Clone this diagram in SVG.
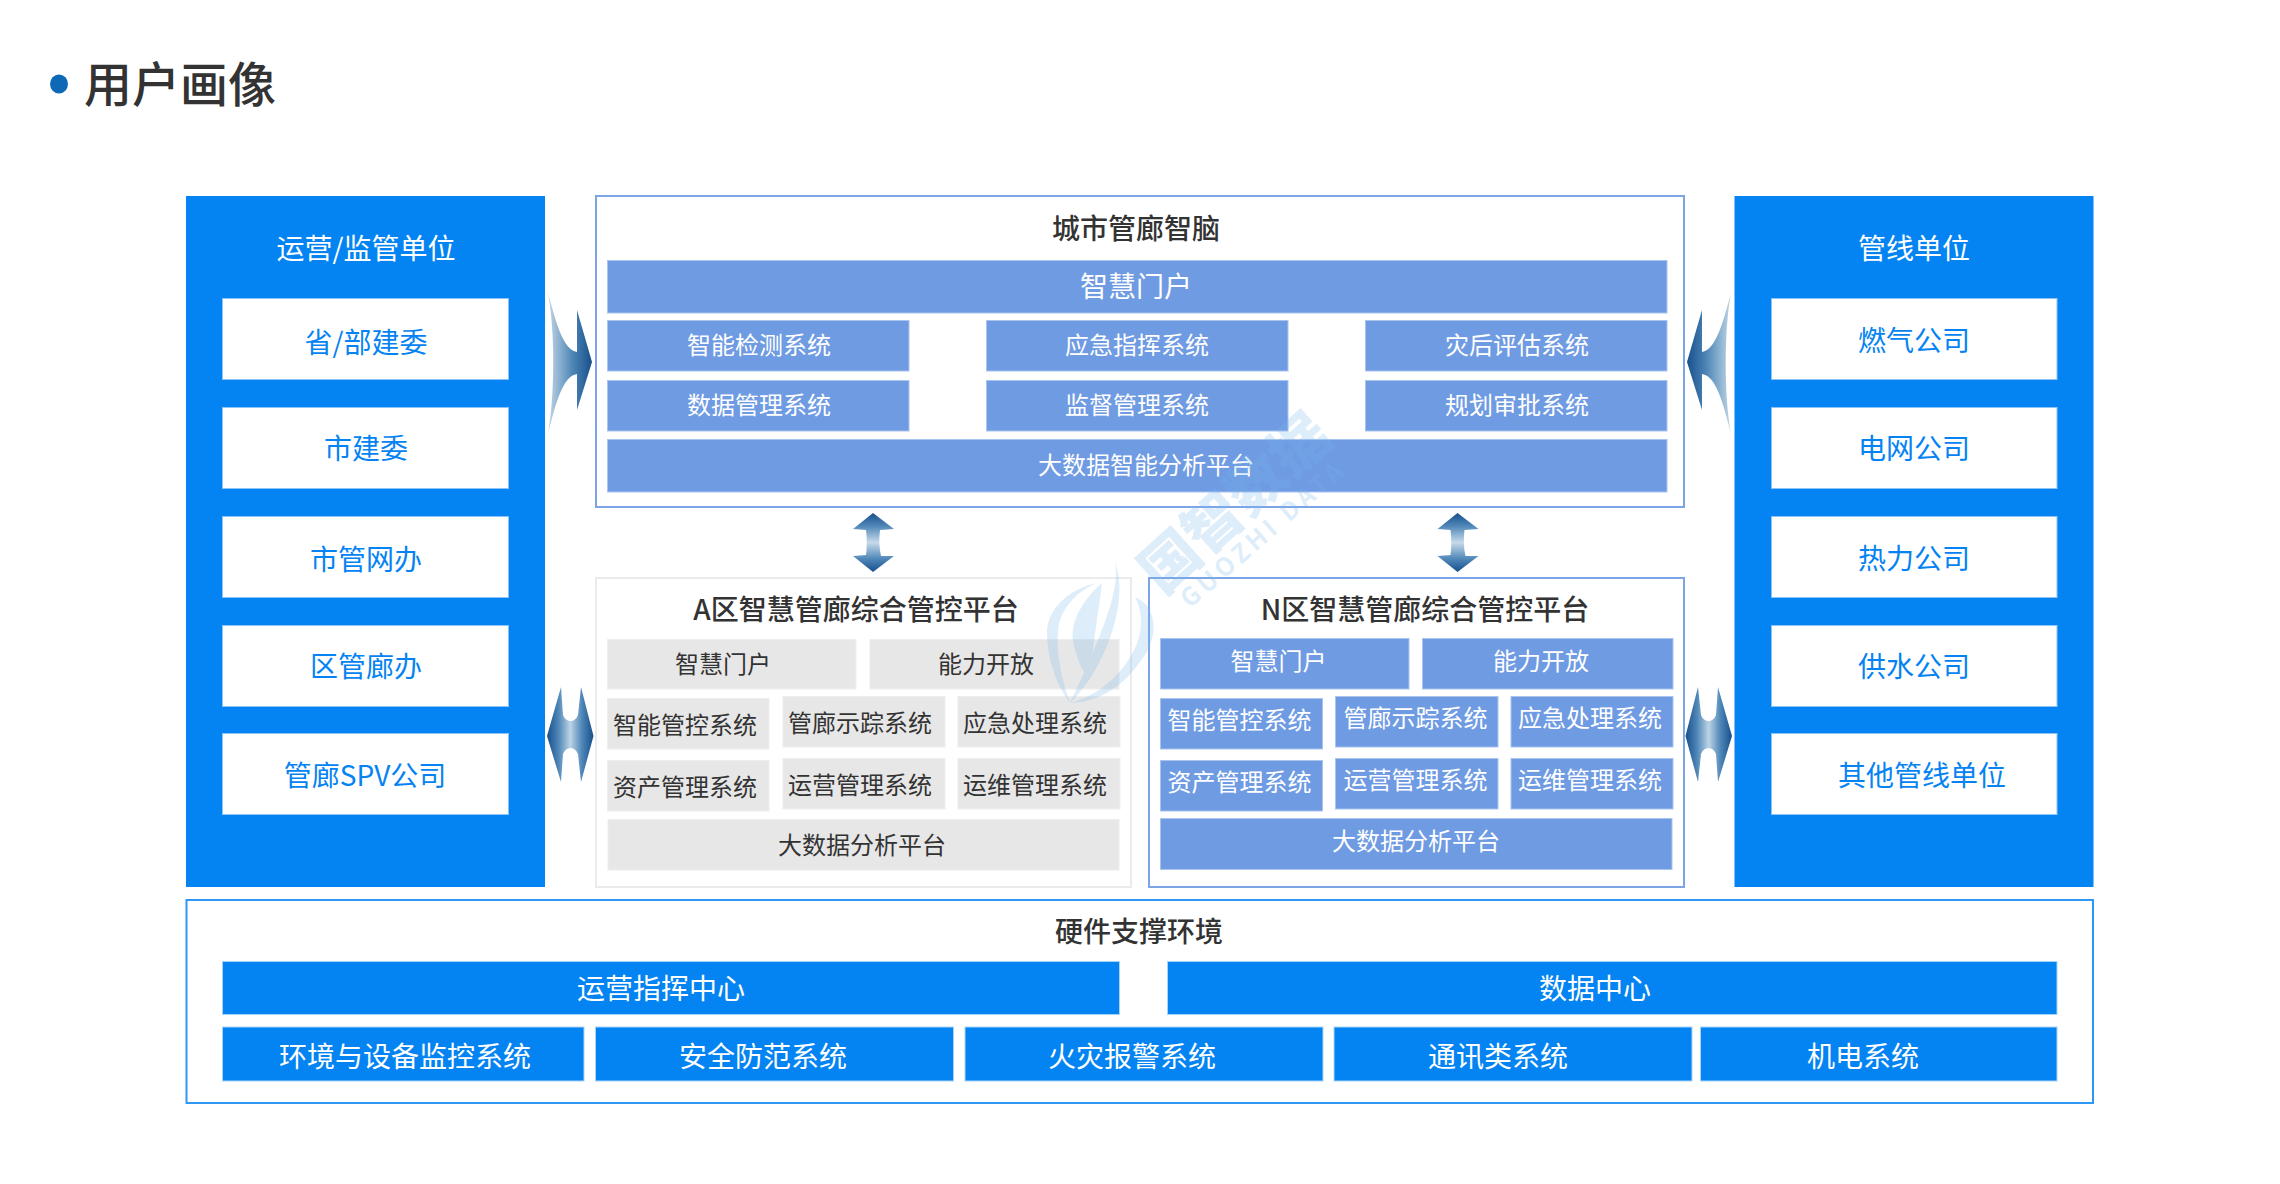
<svg xmlns="http://www.w3.org/2000/svg" width="2280" height="1184" viewBox="0 0 2280 1184">
<style>
text{font-family:"Noto Sans CJK SC","Noto Sans",sans-serif;text-anchor:middle;dominant-baseline:central}
.p{fill:#0484f2}
.w{fill:#fff;stroke:#8cc4f7;stroke-width:1}
.b{fill:#0484f2;stroke:#a9d4fa;stroke-width:1}
.v{fill:#6f9be3;stroke:#a9c4ef;stroke-width:1}
.g{fill:#e7e7e7;stroke:#eeeeee;stroke-width:1}
.fv{fill:#fff;stroke:#7da5e6;stroke-width:2}
.fg{fill:#fff;stroke:#ebebeb;stroke-width:2}
.fb{fill:#fff;stroke:#2e98f4;stroke-width:2}
.t28{font-size:28px;transform:translateY(-1.5px)}.t24{font-size:24px;transform:translateY(-1.5px)}
.tw{fill:#fff}.tb{fill:#0583f2}.td{fill:#333}.m{font-weight:500}
</style>
<defs>
<linearGradient id="gr" x1="0" x2="1" y1="0" y2="0"><stop offset="0" stop-color="#c2d6e6"/><stop offset=".55" stop-color="#4f87b8"/><stop offset="1" stop-color="#174f8c"/></linearGradient>
<linearGradient id="gh" x1="0" x2="1" y1="0" y2="0"><stop offset="0" stop-color="#174f8c"/><stop offset=".25" stop-color="#4f87b8"/><stop offset=".5" stop-color="#bdd3e5"/><stop offset=".75" stop-color="#4f87b8"/><stop offset="1" stop-color="#174f8c"/></linearGradient>
<linearGradient id="gv" x1="0" x2="0" y1="0" y2="1"><stop offset="0" stop-color="#174f8c"/><stop offset=".22" stop-color="#4f87b8"/><stop offset=".5" stop-color="#c6dae9"/><stop offset=".78" stop-color="#4f87b8"/><stop offset="1" stop-color="#174f8c"/></linearGradient>
<path id="ar" d="M548,293 C556,322 563,350 577,352 L577,310 L592,362 L577,410 L577,374 C563,376 556,402 548,434 C555,395 555,330 548,293Z"/>
<path id="ad" d="M561,687 L563,715 C566,723 575,723 578,715 L581,687 L593.500,736 L581,782 L578,754 C575,746 566,746 563,754 L561,782 L547,736Z"/>
<path id="av" d="M873,513 L894,529 L880,530 C879,538 879,548 881,556 L894,556 L873,572 L853,556 L866,555 C867,548 867,538 866,530 L853,529Z"/>
</defs>
<rect width="2280" height="1184" fill="#fff"/>

<g id="title">
<ellipse cx="59" cy="84" rx="9" ry="9.500" fill="#0f68b5"/>
<text x="180" y="81" font-size="48" fill="#333" font-weight="500">用户画像</text>
</g>

<g id="left-panel">
<rect class="p" x="186" y="196" width="359" height="691"/>
<text class="t28 tw" x="366" y="248">运营/监管单位</text>
<g id="l1"><rect class="w" x="222.500" y="298.500" width="286" height="81"/><text class="t28 tb" x="366" y="342">省/部建委</text></g>
<g id="l2"><rect class="w" x="222.500" y="407.500" width="286" height="81"/><text class="t28 tb" x="366" y="448.500">市建委</text></g>
<g id="l3"><rect class="w" x="222.500" y="516.500" width="286" height="81"/><text class="t28 tb" x="366" y="559">市管网办</text></g>
<g id="l4"><rect class="w" x="222.500" y="625.500" width="286" height="81"/><text class="t28 tb" x="366" y="666">区管廊办</text></g>
<g id="l5"><rect class="w" x="222.500" y="733.500" width="286" height="81"/><text class="t28 tb" x="365" y="775">管廊SPV公司</text></g>
</g>

<g id="right-panel">
<rect class="p" x="1734.500" y="196" width="359" height="691"/>
<text class="t28 tw" x="1914" y="248">管线单位</text>
<g id="r1"><rect class="w" x="1771.500" y="298.500" width="285.500" height="81"/><text class="t28 tb" x="1914" y="340">燃气公司</text></g>
<g id="r2"><rect class="w" x="1771.500" y="407.500" width="285.500" height="81"/><text class="t28 tb" x="1914" y="448.500">电网公司</text></g>
<g id="r3"><rect class="w" x="1771.500" y="516.500" width="285.500" height="81"/><text class="t28 tb" x="1914" y="558">热力公司</text></g>
<g id="r4"><rect class="w" x="1771.500" y="625.500" width="285.500" height="81"/><text class="t28 tb" x="1914" y="666">供水公司</text></g>
<g id="r5"><rect class="w" x="1771.500" y="733.500" width="285.500" height="81"/><text class="t28 tb" x="1922" y="775">其他管线单位</text></g>
</g>

<g id="city-brain">
<rect class="fv" x="596" y="196" width="1088" height="311"/>
<text class="t28 td m" x="1136" y="228">城市管廊智脑</text>
<g id="c-portal"><rect class="v" x="607.500" y="260.500" width="1059.500" height="52.500"/><text class="t28 tw" x="1136" y="286">智慧门户</text></g>
<g id="c1"><rect class="v" x="607.500" y="320.500" width="301.500" height="50.500"/><text class="t24 tw" x="759" y="344.500">智能检测系统</text></g>
<g id="c2"><rect class="v" x="986.500" y="320.500" width="301.500" height="50.500"/><text class="t24 tw" x="1137" y="344.500">应急指挥系统</text></g>
<g id="c3"><rect class="v" x="1365.500" y="320.500" width="301.500" height="50.500"/><text class="t24 tw" x="1517" y="344.500">灾后评估系统</text></g>
<g id="c4"><rect class="v" x="607.500" y="380.500" width="301.500" height="50.500"/><text class="t24 tw" x="759" y="405">数据管理系统</text></g>
<g id="c5"><rect class="v" x="986.500" y="380.500" width="301.500" height="50.500"/><text class="t24 tw" x="1137" y="405">监督管理系统</text></g>
<g id="c6"><rect class="v" x="1365.500" y="380.500" width="301.500" height="50.500"/><text class="t24 tw" x="1517" y="405">规划审批系统</text></g>
<g id="c-big"><rect class="v" x="607.500" y="439.500" width="1059.500" height="52.500"/><text class="t24 tw" x="1146" y="465">大数据智能分析平台</text></g>
</g>

<g id="zone-a">
<rect class="fg" x="596" y="578" width="535" height="309"/>
<text class="t28 td m" x="856" y="609">A区智慧管廊综合管控平台</text>
<g id="a-portal"><rect class="g" x="607.500" y="639.500" width="248.500" height="49.500"/><text class="t24 td" x="723" y="664">智慧门户</text></g>
<g id="a-open"><rect class="g" x="870" y="639.500" width="249" height="49.500"/><text class="t24 td" x="986" y="664">能力开放</text></g>
<g id="a1"><rect class="g" x="607.500" y="698.500" width="161.500" height="50.500"/><text class="t24 td" x="685" y="725">智能管控系统</text></g>
<g id="a2"><rect class="g" x="783" y="696.500" width="162" height="50.500"/><text class="t24 td" x="860" y="723">管廊示踪系统</text></g>
<g id="a3"><rect class="g" x="958" y="696.500" width="162" height="50.500"/><text class="t24 td" x="1035" y="723">应急处理系统</text></g>
<g id="a4"><rect class="g" x="607.500" y="760.500" width="161.500" height="50.500"/><text class="t24 td" x="685" y="786.500">资产管理系统</text></g>
<g id="a5"><rect class="g" x="783" y="758.500" width="162" height="50.500"/><text class="t24 td" x="860" y="784.500">运营管理系统</text></g>
<g id="a6"><rect class="g" x="958" y="758.500" width="162" height="50.500"/><text class="t24 td" x="1035" y="784.500">运维管理系统</text></g>
<g id="a-big"><rect class="g" x="608" y="819.500" width="511" height="50.500"/><text class="t24 td" x="862" y="845">大数据分析平台</text></g>
</g>

<g id="zone-n">
<rect class="fv" x="1149" y="578" width="535" height="309"/>
<text class="t28 td m" x="1425" y="609">N区智慧管廊综合管控平台</text>
<g id="n-portal"><rect class="v" x="1160.500" y="638.500" width="248.500" height="50.500"/><text class="t24 tw" x="1278.500" y="660.500">智慧门户</text></g>
<g id="n-open"><rect class="v" x="1422.500" y="638.500" width="250.500" height="50.500"/><text class="t24 tw" x="1541" y="660.500">能力开放</text></g>
<g id="n1"><rect class="v" x="1160.500" y="698.500" width="162" height="50.500"/><text class="t24 tw" x="1239.500" y="720">智能管控系统</text></g>
<g id="n2"><rect class="v" x="1335.500" y="696.500" width="162.500" height="50.500"/><text class="t24 tw" x="1415.500" y="718">管廊示踪系统</text></g>
<g id="n3"><rect class="v" x="1511" y="696.500" width="162" height="50.500"/><text class="t24 tw" x="1590" y="718">应急处理系统</text></g>
<g id="n4"><rect class="v" x="1160.500" y="760.500" width="162" height="50.500"/><text class="t24 tw" x="1239.500" y="782">资产管理系统</text></g>
<g id="n5"><rect class="v" x="1335.500" y="758.500" width="162.500" height="50.500"/><text class="t24 tw" x="1415.500" y="780">运营管理系统</text></g>
<g id="n6"><rect class="v" x="1511" y="758.500" width="162" height="50.500"/><text class="t24 tw" x="1590" y="780">运维管理系统</text></g>
<g id="n-big"><rect class="v" x="1160.500" y="818.500" width="511.500" height="51"/><text class="t24 tw" x="1416" y="841">大数据分析平台</text></g>
</g>

<g id="hardware">
<rect class="fb" x="186.500" y="900" width="1906.500" height="203"/>
<text class="t28 td m" x="1139" y="931">硬件支撑环境</text>
<g id="h1"><rect class="b" x="222.500" y="961.500" width="897" height="53"/><text class="t28 tw" x="661" y="988.500">运营指挥中心</text></g>
<g id="h2"><rect class="b" x="1167.500" y="961.500" width="889.500" height="53"/><text class="t28 tw" x="1595" y="988.500">数据中心</text></g>
<g id="h3"><rect class="b" x="222.500" y="1027" width="361.500" height="54"/><text class="t28 tw" x="405" y="1056">环境与设备监控系统</text></g>
<g id="h4"><rect class="b" x="595.500" y="1027" width="358" height="54"/><text class="t28 tw" x="763" y="1056">安全防范系统</text></g>
<g id="h5"><rect class="b" x="965" y="1027" width="358" height="54"/><text class="t28 tw" x="1132" y="1056">火灾报警系统</text></g>
<g id="h6"><rect class="b" x="1334" y="1027" width="358" height="54"/><text class="t28 tw" x="1498" y="1056">通讯类系统</text></g>
<g id="h7"><rect class="b" x="1700.500" y="1027" width="356.500" height="54"/><text class="t28 tw" x="1863" y="1056">机电系统</text></g>
</g>

<g id="connectors">
<use href="#ar" fill="url(#gr)"/>
<use href="#ar" fill="url(#gr)" transform="matrix(-1 0 0 1 2279 0)"/>
<use href="#ad" fill="url(#gh)"/>
<use href="#ad" fill="url(#gh)" transform="matrix(-1 0 0 1 2279 0)"/>
<use href="#av" fill="url(#gv)"/>
<use href="#av" fill="url(#gv)" transform="translate(584.500 0)"/>
</g>

<g id="watermark" fill="#7ab6ea" opacity=".25">
<path d="M1097,583 C1065,590 1046,612 1047,635 C1048,665 1060,690 1070,703 C1062,680 1056,655 1058,630 C1060,610 1075,592 1097,583Z"/>
<path d="M1070,703 C1105,702 1130,680 1148,650 C1158,630 1155,605 1135,597 C1147,620 1140,645 1125,665 C1110,685 1090,698 1070,703Z"/>
<path d="M1115,563 C1122,590 1095,650 1070,703 C1105,670 1130,600 1115,563Z"/>
<path d="M1102,583 C1085,598 1070,620 1073,640 C1076,660 1085,675 1090,680 C1092,650 1098,615 1102,583Z"/>
<text x="1232" y="500" font-size="58" font-weight="900" transform="rotate(-42 1232 500)">国智数据</text>
<text x="1262" y="532" font-size="25" font-weight="700" letter-spacing="4" transform="rotate(-41 1262 532)" font-family="Liberation Sans">GUOZHI DATA</text>
</g>
</svg>
